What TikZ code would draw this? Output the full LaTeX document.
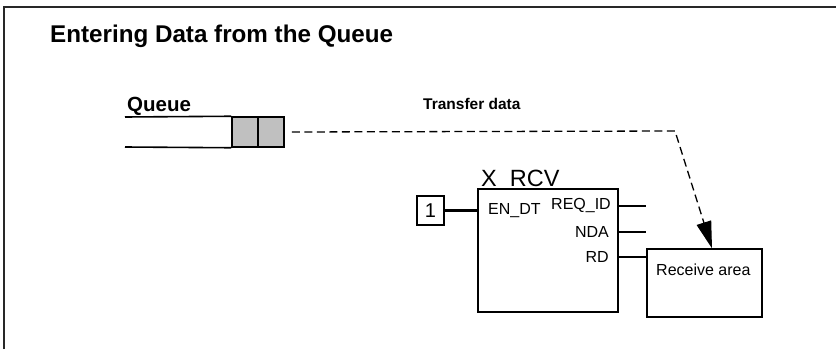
\documentclass[tikz,border=0pt]{standalone}
\usepackage{fontspec}
\setmainfont{Liberation Sans}
\usetikzlibrary{arrows.meta}
\definecolor{cellgray}{RGB}{192,192,192}
\definecolor{framegray}{RGB}{40,40,40}
\tikzset{
	heading/.style={anchor=base west,inner sep=0pt,font=\bfseries\fontsize{24.2}{28}\selectfont},
	bolllab/.style={anchor=base west,inner sep=0pt,font=\bfseries\fontsize{#1}{#1}\selectfont},
	cell/.style={draw,line width=1.5pt,fill=cellgray,minimum width=26pt,minimum height=30pt,inner sep=0pt},
	tube/.style={line width=1.6pt},
	flow/.style={line width=1.3pt,dash pattern=on 8pt off 4.5pt,-{Triangle[length=27pt,width=15pt]}},
	fblock/.style={draw,line width=2.2pt,fill=white,minimum width=140pt,minimum height=123pt,inner sep=0pt},
	const/.style={draw,line width=1.6pt,minimum width=27pt,minimum height=29pt,inner sep=0pt,font=\fontsize{20}{20}\selectfont},
	pinlab/.style={inner sep=0pt,font=\fontsize{16}{16}\selectfont},
	pinline/.style={line width=2.8pt},
	area/.style={draw,line width=1.2pt,minimum width=115pt,minimum height=68pt,inner sep=0pt}
}
\begin{document}
\begin{tikzpicture}[x=1pt,y=1pt]
	\useasboundingbox (0,0) rectangle (836,349);
	% frame
	\draw[framegray,line width=1.3pt] (4,0) -- (4,342) -- (836,342);

	\node [heading] (title) at (50,306) {Entering Data from the Queue};

	% queue
	\node [bolllab=20.5] (qlabel) at (127,238) {Queue};
	\node [cell] (c1) at (245,217) {};
	\node [cell] (c2) at (271,217) {};
	\coordinate (qtop) at (125,232);
	\coordinate (qbot) at (125,202);
	\draw [tube] (qtop) -- (c1.north west);
	\draw [tube] (qbot) -- (c1.south west);

	% receive block
	\coordinate (rcvnw) at (477,161);
	\node [anchor=base west,inner sep=0pt,font=\fontsize{23.5}{23.5}\selectfont] (rcvname) at ([xshift=4pt,yshift=1.5pt]rcvnw) {X\_RCV};
	\node [fblock,anchor=north west] (rcv) at (rcvnw) {};
	\node [const] (one) at (430.5,138.5) {1};
	\draw [pinline] (one.east) -- (one -| rcv.west);
	\node [pinlab,anchor=west] (endt) at ([xshift=11pt]rcv.west |- one) {EN\_DT};
	\node [pinlab,anchor=east] (reqid) at (611,143) {REQ\_ID};
	\node [pinlab,anchor=east] (nda) at (609,117) {NDA};
	\node [pinlab,anchor=east] (rd) at (609,92) {RD};

	\node [area] (recv) at (704.5,66) {};
	\node [anchor=base west,inner sep=0pt,font=\fontsize{16}{16}\selectfont] (recvlab) at (656,74) {Receive area};

	\coordinate (reqout) at (646,143);
	\coordinate (ndaout) at (646,117);
	\draw [pinline] (reqid -| rcv.east) -- (reqout);
	\draw [pinline] (nda -| rcv.east) -- (ndaout);
	\draw [pinline] (rd -| rcv.east) -- (rd -| recv.west);

	% data transfer
	\node [bolllab=15.5] (xfer) at (423,240) {Transfer data};
	\coordinate (bend) at (675,218);
	\draw [flow] ([xshift=7pt]c2.east) -- (bend) -- ([xshift=7.5pt]recv.north);
\end{tikzpicture}
\end{document}
